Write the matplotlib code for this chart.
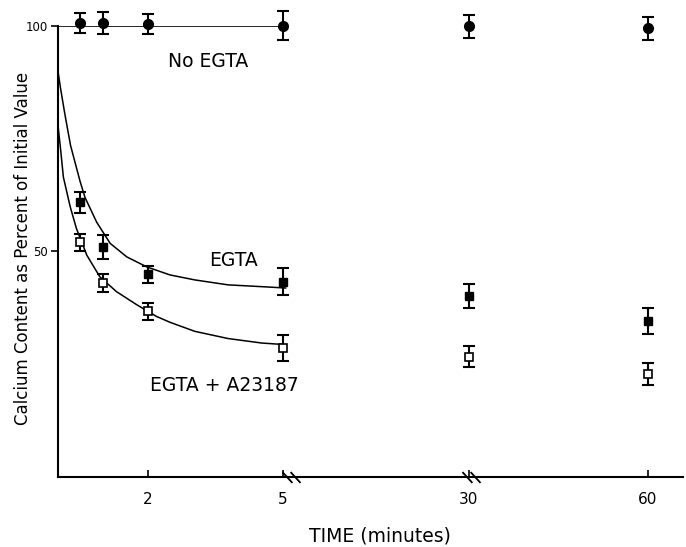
import numpy as np
import matplotlib.pyplot as plt
from matplotlib.path import Path

# measured points (time in minutes, % of initial calcium)
times = [0.5, 1, 2, 5, 30, 60]
no_egta = [100.6, 100.7, 100.4, 100.1, 99.9, 99.5]
no_egta_err = [2.2, 2.5, 2.2, 3.2, 2.6, 2.5]
egta = [60.9, 51.0, 44.9, 43.3, 40.1, 34.6]
egta_err = [2.3, 2.6, 1.8, 3.0, 2.6, 2.9]
egta_a23 = [52.0, 43.0, 36.7, 28.6, 26.7, 22.9]
egta_a23_err = [1.8, 2.0, 1.8, 2.9, 2.3, 2.4]

# fitted curves
no_egta_line_t = [0, 5]
no_egta_line = [100, 100]
egta_fit_t = [0, 0.06, 0.156, 0.28, 0.49, 0.6, 0.86, 1.16, 1.53, 1.97, 2.49, 3.04, 3.78, 4.53, 5.38]
egta_fit = [90.0, 86.0, 80.3, 73.5, 65.6, 62.0, 56.5, 51.8, 48.8, 46.6, 44.8, 43.7, 42.6, 42.2, 41.9]
a23_fit_t = [0, 0.06, 0.12, 0.27, 0.41, 0.64, 0.93, 1.30, 1.75, 2.19, 2.49, 3.04, 3.78, 4.53, 4.97]
a23_fit = [78.0, 72.5, 66.5, 60.0, 55.1, 49.2, 44.4, 41.1, 38.2, 35.6, 34.3, 32.3, 30.7, 29.7, 29.4]

xticks = [2, 5, 30, 60]
yticks = [50, 100]

# broken time axis: 0-5 linear, 5-30 and 30-60 squeezed
t_knots = [-10, 0, 5, 30, 60, 90]
u_knots = [-10, 0, 5, 9.13, 13.11, 17.09]


def fwd(t):
    return np.interp(t, t_knots, u_knots)


def inv(u):
    return np.interp(u, u_knots, t_knots)


fig = plt.figure(figsize=(6.86, 5.47), dpi=100)
ax = fig.add_axes([0.0845, 0.128, 0.911, 0.8245])
ax.set_xscale("function", functions=(fwd, inv))
ax.set_xlim(0, 65.9)
ax.set_ylim(0, 100)

ax.plot(no_egta_line_t, no_egta_line, color="black", lw=1.2)
ax.plot(egta_fit_t, egta_fit, color="black", lw=1.1, solid_joinstyle="round")
ax.plot(a23_fit_t, a23_fit, color="black", lw=1.1, solid_joinstyle="round")

eb = dict(fmt="none", ecolor="black", elinewidth=1.5, capsize=4, capthick=1.5, clip_on=False)
ax.errorbar(times, no_egta, yerr=no_egta_err, **eb)
ax.errorbar(times, egta, yerr=egta_err, **eb)
ax.errorbar(times, egta_a23, yerr=egta_a23_err, **eb)
ax.plot(times, no_egta, "o", color="black", ms=7, clip_on=False, zorder=3)
ax.plot(times, egta, "s", color="black", ms=6, clip_on=False, zorder=3)
ax.plot(times, egta_a23, "s", mfc="white", mec="black", mew=1.2, ms=6, clip_on=False, zorder=3)

# axis break marks
brk = Path([(-1, 0.6), (0.1, -0.6), (-0.1, 0.6), (1, -0.6)],
           [Path.MOVETO, Path.LINETO, Path.MOVETO, Path.LINETO])
ax.plot([6.1, 30.4], [0, 0], ls="none", marker=brk, ms=13, mec="black", mew=1.3,
        clip_on=False, zorder=4)

ax.text(3.33, 92.1, "No EGTA", fontsize=13.5, ha="center", va="center")
ax.text(3.91, 48.0, "EGTA", fontsize=13.5, ha="center", va="center")
ax.text(3.69, 20.3, "EGTA + A23187", fontsize=13.5, ha="center", va="center")

for s in ["top", "right"]:
    ax.spines[s].set_visible(False)
for s in ["left", "bottom"]:
    ax.spines[s].set_linewidth(1.5)

ax.set_xticks(xticks)
ax.set_xticklabels([str(x) for x in xticks])
ax.set_xticks([], minor=True)
ax.tick_params(axis="x", direction="in", length=5, width=1.2, labelsize=11, pad=11)
ax.set_yticks(yticks)
ax.set_yticklabels([str(y) for y in yticks])
ax.tick_params(axis="y", direction="out", length=5, width=1.2, labelsize=8.5, pad=2)

fig.text(0.034, 0.5466, "Calcium Content as Percent of Initial Value", rotation=90,
         fontsize=12, ha="center", va="center")
fig.text(0.554, 0.020, "TIME (minutes)", fontsize=13.5, ha="center", va="center")

fig.savefig("out.png", dpi=100)
